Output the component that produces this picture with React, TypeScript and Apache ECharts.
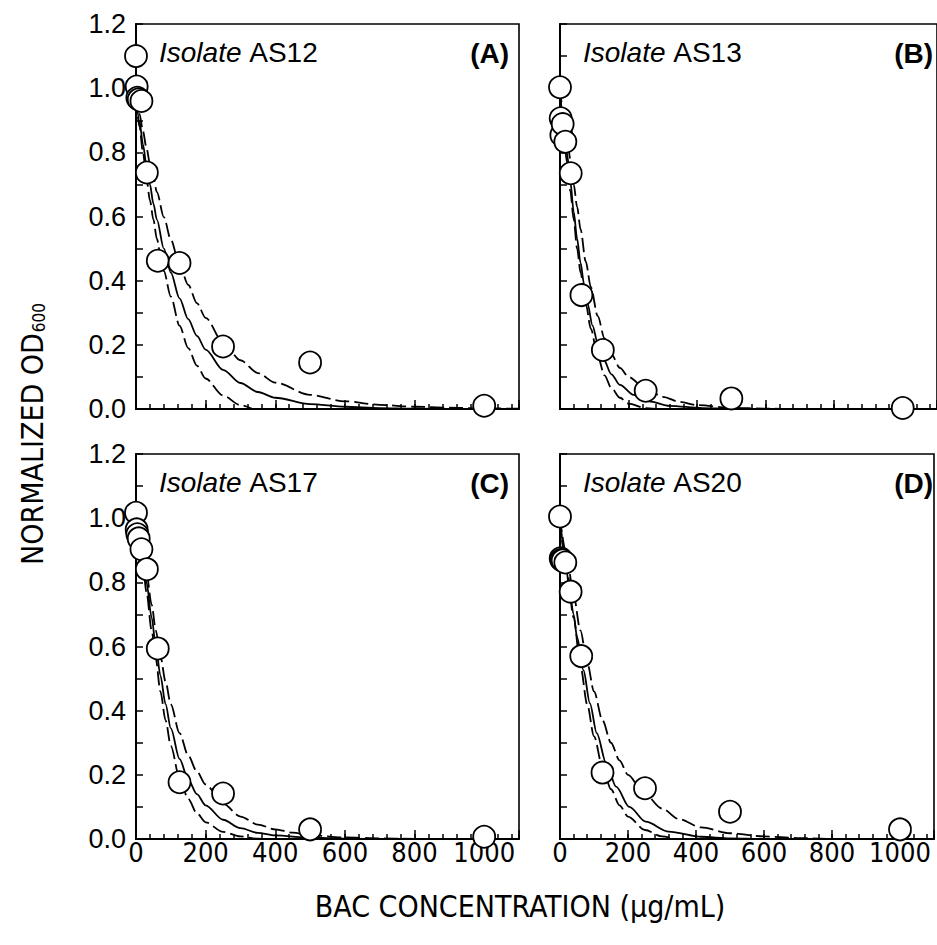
import React, { useEffect, useRef } from "react";
import * as echarts from "echarts";

// BAC concentrations (µg/mL), two-fold dilution series
const CONC = [0, 1.95, 3.9, 7.8, 15.6, 31.25, 62.5, 125, 250, 500, 1000];

// Normalized OD600 observations
const OD_AS12 = [1.1, 1.005, 0.97, 0.965, 0.96, 0.737, 0.462, 0.455, 0.195, 0.145, 0.01];
const OD_AS13 = [1.003, 0.906, 0.854, 0.888, 0.833, 0.735, 0.355, 0.184, 0.057, 0.033, 0.003];
const OD_AS17 = [1.017, 0.965, 0.95, 0.937, 0.903, 0.841, 0.594, 0.177, 0.142, 0.03, 0.007];
const OD_AS20 = [1.005, 0.875, 0.87, 0.868, 0.862, 0.771, 0.57, 0.207, 0.158, 0.085, 0.03];

// Fitted curves and confidence bands
const AS12_FIT_X = [0, 10, 20, 30, 40, 50, 60, 80, 100, 125, 150, 175, 200, 250, 300, 350, 400, 500, 600, 700, 800, 1000, 1100];
const AS12_FIT_Y = [0.975, 0.897, 0.825, 0.76, 0.7, 0.64, 0.59, 0.5, 0.425, 0.345, 0.28, 0.228, 0.185, 0.122, 0.081, 0.053, 0.035, 0.015, 0.007, 0.003, 0.001, 0, 0];
const AS12_UP_X = [0, 10, 20, 30, 40, 50, 60, 80, 100, 125, 150, 175, 200, 250, 300, 350, 400, 500, 600, 700, 800, 900, 1000, 1100];
const AS12_UP_Y = [0.98, 0.92, 0.866, 0.814, 0.765, 0.72, 0.676, 0.598, 0.528, 0.45, 0.387, 0.33, 0.284, 0.208, 0.152, 0.112, 0.082, 0.044, 0.024, 0.013, 0.007, 0.004, 0.002, 0.001];
const AS12_LO_X = [0, 10, 20, 30, 40, 50, 60, 73, 80, 100, 125, 150, 175, 200, 250, 300, 335];
const AS12_LO_Y = [0.97, 0.88, 0.8, 0.72, 0.65, 0.59, 0.53, 0.465, 0.43, 0.35, 0.26, 0.19, 0.135, 0.095, 0.042, 0.012, 0];

const AS13_FIT_X = [0, 10, 20, 30, 40, 50, 60, 70, 80, 95, 110, 127, 150, 175, 215, 260, 320, 415, 500, 600, 1100];
const AS13_FIT_Y = [0.99, 0.9, 0.8, 0.71, 0.615, 0.53, 0.455, 0.39, 0.33, 0.26, 0.205, 0.155, 0.108, 0.075, 0.044, 0.024, 0.01, 0.003, 0.001, 0, 0];
const AS13_UP_X = [0, 10, 20, 30, 40, 50, 60, 75, 90, 110, 130, 150, 175, 200, 250, 300, 350, 400, 500, 600, 700];
const AS13_UP_Y = [1.0, 0.92, 0.85, 0.78, 0.7, 0.63, 0.56, 0.46, 0.38, 0.29, 0.22, 0.17, 0.128, 0.1, 0.063, 0.038, 0.022, 0.012, 0.004, 0.001, 0];
const AS13_LO_X = [0, 10, 20, 30, 40, 50, 60, 75, 90, 110, 130, 150, 175, 200, 250, 280];
const AS13_LO_Y = [0.98, 0.88, 0.77, 0.68, 0.59, 0.5, 0.425, 0.33, 0.25, 0.165, 0.105, 0.065, 0.035, 0.017, 0.003, 0];

const AS17_FIT_X = [0, 10, 20, 30, 45, 57, 70, 85, 100, 125, 150, 175, 200, 250, 300, 350, 400, 500, 600, 700, 1100];
const AS17_FIT_Y = [1.0, 0.94, 0.87, 0.8, 0.69, 0.6, 0.51, 0.42, 0.345, 0.25, 0.185, 0.14, 0.105, 0.06, 0.034, 0.019, 0.011, 0.004, 0.001, 0, 0];
const AS17_UP_X = [0, 10, 20, 30, 45, 57, 70, 85, 100, 125, 150, 175, 200, 250, 300, 350, 400, 450, 500, 600, 700, 800];
const AS17_UP_Y = [1.0, 0.95, 0.89, 0.83, 0.73, 0.65, 0.57, 0.49, 0.42, 0.33, 0.26, 0.21, 0.17, 0.11, 0.07, 0.045, 0.03, 0.02, 0.012, 0.005, 0.002, 0];
const AS17_LO_X = [0, 10, 20, 30, 45, 57, 70, 85, 100, 125, 150, 175, 200, 250, 300, 350, 380];
const AS17_LO_Y = [0.99, 0.92, 0.85, 0.77, 0.65, 0.56, 0.46, 0.37, 0.29, 0.19, 0.125, 0.08, 0.052, 0.022, 0.008, 0.001, 0];

const AS20_FIT_X = [0, 15, 26, 40, 50, 69, 88, 108, 136, 165, 204, 252, 320, 415, 500, 600, 1100];
const AS20_FIT_Y = [1.0, 0.88, 0.79, 0.7, 0.63, 0.526, 0.423, 0.33, 0.236, 0.163, 0.1, 0.054, 0.023, 0.007, 0.002, 0, 0];
const AS20_UP_X = [0, 20, 40, 60, 80, 100, 125, 150, 175, 200, 245, 300, 350, 415, 500, 600, 700, 800];
const AS20_UP_Y = [1.0, 0.88, 0.76, 0.65, 0.55, 0.46, 0.37, 0.3, 0.245, 0.2, 0.145, 0.095, 0.062, 0.036, 0.018, 0.008, 0.003, 0];
const AS20_LO_X = [0, 20, 40, 60, 80, 100, 125, 150, 175, 200, 250, 300, 340];
const AS20_LO_Y = [0.99, 0.84, 0.69, 0.54, 0.42, 0.32, 0.225, 0.155, 0.105, 0.07, 0.028, 0.008, 0];

const ISOLATES = ["AS12", "AS13", "AS17", "AS20"];
const TAGS = ["(A)", "(B)", "(C)", "(D)"];
const X_TITLE = "BAC CONCENTRATION (\u03bcg/mL)";

const SANS = "'Liberation Sans', Arial, sans-serif";
const NARROW = "'Liberation Sans Narrow', 'Arial Narrow', 'DejaVu Sans Condensed', 'Liberation Sans', sans-serif";

const zip = (xs: number[], ys: number[]) => xs.map((x, i) => [x, ys[i]]);

const PANELS = [
  { od: OD_AS12, fit: zip(AS12_FIT_X, AS12_FIT_Y), up: zip(AS12_UP_X, AS12_UP_Y), lo: zip(AS12_LO_X, AS12_LO_Y) },
  { od: OD_AS13, fit: zip(AS13_FIT_X, AS13_FIT_Y), up: zip(AS13_UP_X, AS13_UP_Y), lo: zip(AS13_LO_X, AS13_LO_Y) },
  { od: OD_AS17, fit: zip(AS17_FIT_X, AS17_FIT_Y), up: zip(AS17_UP_X, AS17_UP_Y), lo: zip(AS17_LO_X, AS17_LO_Y) },
  { od: OD_AS20, fit: zip(AS20_FIT_X, AS20_FIT_Y), up: zip(AS20_UP_X, AS20_UP_Y), lo: zip(AS20_LO_X, AS20_LO_Y) },
];

const GRID_LEFTS = [136, 560];
const GRID_TOPS = [24, 454];
const GW = 383;
const GH = 385;

export default function App() {
  const ref = useRef<HTMLDivElement>(null);
  useEffect(() => {
    if (!ref.current) return;
    const chart = echarts.init(ref.current, null, { renderer: "svg" });

    const grids: any[] = [];
    const xAxes: any[] = [];
    const yAxes: any[] = [];
    const series: any[] = [];
    const graphics: any[] = [];

    PANELS.forEach((p, i) => {
      const col = i % 2;
      const row = Math.floor(i / 2);
      const left = GRID_LEFTS[col];
      const top = GRID_TOPS[row];
      grids.push({
        left, top, width: GW, height: GH,
        show: true, borderColor: "#000", borderWidth: 1.6, backgroundColor: "transparent",
      });
      xAxes.push({
        gridIndex: i, type: "value", min: 0, max: 1100, interval: 200, position: "bottom",
        axisLine: { show: true, onZero: false, lineStyle: { color: "#000", width: 2 } },
        axisTick: { show: true, inside: true, length: 9, lineStyle: { color: "#000", width: 1.5 } },
        axisLabel: {
          show: row === 1, margin: 0, color: "#000", fontSize: 27, fontFamily: NARROW,
          formatter: (v: number) => (v % 200 === 0 && v <= 1000 ? String(v) : ""),
        },
        splitLine: { show: false },
      });
      xAxes.push({
        gridIndex: i, type: "value", min: 0, max: 1100, interval: 40, position: "bottom",
        axisLine: { show: false },
        axisTick: { show: true, inside: true, length: 5, lineStyle: { color: "#000", width: 1.5 } },
        axisLabel: { show: false },
        splitLine: { show: false },
      });
      yAxes.push({
        gridIndex: i, type: "value", min: 0, max: 1.2, interval: 0.1,
        axisLine: { show: true, onZero: false, lineStyle: { color: "#000", width: 2 } },
        axisTick: { show: true, inside: true, length: 7, lineStyle: { color: "#000", width: 1.5 } },
        axisLabel: {
          show: col === 0, margin: 10, color: "#000", fontSize: 27, fontFamily: SANS,
          formatter: (v: number) => (Math.round(v * 10) % 2 === 0 ? v.toFixed(1) : ""),
        },
        splitLine: { show: false },
      });
      const lineBase = {
        type: "line", xAxisIndex: i * 2, yAxisIndex: i, symbol: "none", showSymbol: false,
        smooth: 0.3, smoothMonotone: "x", silent: true, z: 2, animation: false,
      };
      series.push({ ...lineBase, data: p.up, lineStyle: { color: "#000", width: 1.8, type: [14, 5] } });
      series.push({ ...lineBase, data: p.lo, lineStyle: { color: "#000", width: 1.8, type: [14, 5] } });
      series.push({ ...lineBase, data: p.fit, lineStyle: { color: "#000", width: 1.8, type: "solid" } });
      series.push({
        type: "scatter", xAxisIndex: i * 2, yAxisIndex: i, symbol: "circle", symbolSize: 22,
        itemStyle: { color: "#fff", borderColor: "#000", borderWidth: 1.8, opacity: 1 },
        data: zip(CONC, p.od), z: 5, silent: true, clip: false,
      });
      graphics.push({
        type: "text", x: left + 23, y: top + 28,
        style: {
          text: `{i|Isolate} {n|${ISOLATES[i]}}`,
          fontSize: 28, fontFamily: SANS, fill: "#000", verticalAlign: "middle", align: "left",
          rich: {
            i: { fontStyle: "italic", fontSize: 28, fontFamily: SANS, fill: "#000" },
            n: { fontSize: 28, fontFamily: SANS, fill: "#000" },
          },
        },
      });
      graphics.push({
        type: "text", x: left + GW - 10, y: top + 29,
        style: {
          text: TAGS[i], fontSize: 28, fontWeight: "bold", fontFamily: SANS, fill: "#000",
          align: "right", verticalAlign: "middle",
        },
      });
    });

    graphics.push({
      type: "text", x: 520, y: 906,
      style: { text: X_TITLE, fontSize: 30, fontFamily: NARROW, fill: "#000", align: "center", verticalAlign: "middle" },
    });
    graphics.push({
      type: "text", x: 32, y: 434, rotation: Math.PI / 2,
      style: {
        text: "{a|NORMALIZED OD}{b|600}", align: "center", verticalAlign: "middle", fill: "#000",
        fontFamily: NARROW, fontSize: 30,
        rich: {
          a: { fontSize: 30, lineHeight: 30, fontFamily: NARROW, verticalAlign: "top", fill: "#000" },
          b: { fontSize: 17, lineHeight: 17, fontFamily: NARROW, verticalAlign: "bottom", padding: [17, 0, 0, 1], fill: "#000" },
        },
      },
    });

    chart.setOption({
      animation: false,
      backgroundColor: "#fff",
      grid: grids,
      xAxis: xAxes,
      yAxis: yAxes,
      series,
      graphic: graphics,
    });
    return () => chart.dispose();
  }, []);

  return (
    <div style={{ position: "fixed", left: 0, top: 0, width: 937, height: 945, background: "#fff" }}>
      <div ref={ref} style={{ width: 937, height: 945 }} />
    </div>
  );
}
